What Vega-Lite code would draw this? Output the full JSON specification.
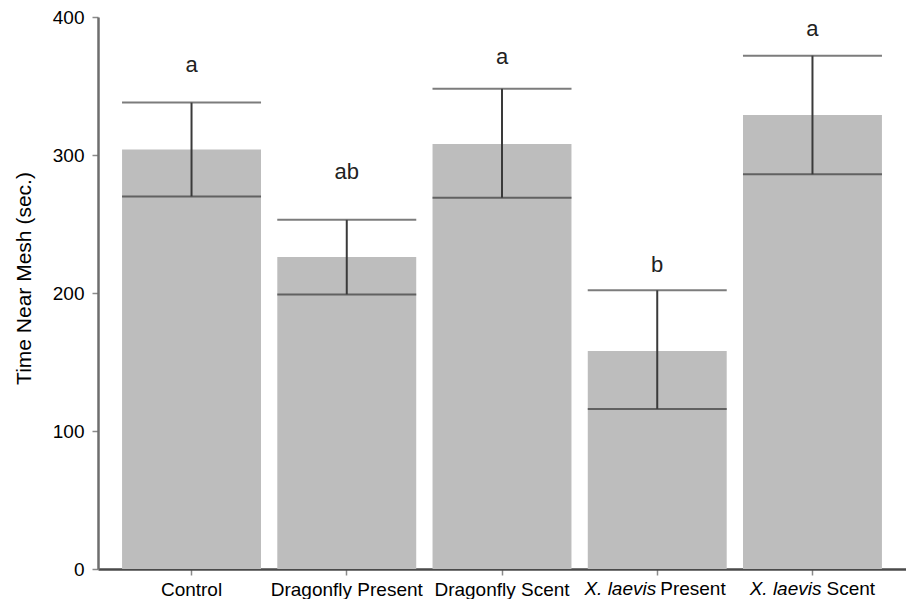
{
  "$schema": "https://vega.github.io/schema/vega-lite/v6.json",
  "width": 808,
  "height": 552,
  "autosize": {"type": "none"},
  "padding": {"left": 98, "top": 17, "right": 0, "bottom": 30},
  "background": "white",
  "config": {
    "view": {"stroke": null},
    "font": "Liberation Sans"
  },
  "data": {
    "values": [
      {"group": "Control", "mean": 304, "lo": 270, "hi": 338, "letter": "a", "letterY": 365, "ital": "", "plain": "Control"},
      {"group": "Dragonfly Present", "mean": 226, "lo": 199, "hi": 253, "letter": "ab", "letterY": 288, "ital": "", "plain": "Dragonfly Present"},
      {"group": "Dragonfly Scent", "mean": 308, "lo": 269, "hi": 348, "letter": "a", "letterY": 371, "ital": "", "plain": "Dragonfly Scent"},
      {"group": "X. laevis Present", "mean": 158, "lo": 116, "hi": 202, "letter": "b", "letterY": 220, "ital": "X. laevis", "plain": "Present"},
      {"group": "X. laevis Scent", "mean": 329, "lo": 286, "hi": 372, "letter": "a", "letterY": 391, "ital": "X. laevis", "plain": "Scent"}
    ]
  },
  "encoding": {
    "x": {
      "field": "group",
      "type": "nominal",
      "sort": null,
      "scale": {"paddingInner": 0.105, "paddingOuter": 0.155},
      "axis": {
        "title": null,
        "labelAngle": 0,
        "labelFontSize": 19,
        "labelColor": "#000000",
        "labelPadding": 5,
        "labelExpr": "indexof(datum.value, 'laevis') >= 0 ? '' : datum.value",
        "tickSize": 6,
        "tickColor": "#8a8a8a",
        "tickWidth": 1.5,
        "domainColor": "#4a4a4a",
        "domainWidth": 2.5,
        "grid": false
      }
    }
  },
  "layer": [
    {
      "mark": {"type": "bar", "color": "#bdbdbd"},
      "encoding": {
        "y": {
          "field": "mean",
          "type": "quantitative",
          "scale": {"domain": [0, 400], "nice": false},
          "axis": {
            "title": "Time Near Mesh (sec.)",
            "titleFontSize": 21,
            "titleFontWeight": "normal",
            "titleColor": "#000000",
            "titleX": -74,
            "titleY": 261,
            "titleAlign": "center",
            "titleBaseline": "middle",
            "titleAngle": -90,
            "values": [0, 100, 200, 300, 400],
            "labelFontSize": 19,
            "labelColor": "#000000",
            "labelPadding": 8,
            "tickSize": 6,
            "tickColor": "#8a8a8a",
            "tickWidth": 1.5,
            "domainColor": "#6e6e6e",
            "domainWidth": 2.5,
            "grid": false
          }
        }
      }
    },
    {
      "mark": {"type": "rule", "color": "#3a3a3a", "strokeWidth": 2},
      "encoding": {
        "y": {"field": "lo", "type": "quantitative"},
        "y2": {"field": "hi"}
      }
    },
    {
      "mark": {"type": "tick", "color": "#444444", "thickness": 2, "size": 139},
      "encoding": {"y": {"field": "hi", "type": "quantitative"}}
    },
    {
      "mark": {"type": "tick", "color": "#3a3a3a", "thickness": 2, "size": 139},
      "encoding": {"y": {"field": "lo", "type": "quantitative"}}
    },
    {
      "mark": {"type": "text", "fontSize": 22, "color": "#222222", "baseline": "middle", "align": "center"},
      "encoding": {
        "y": {"field": "letterY", "type": "quantitative"},
        "text": {"field": "letter"}
      }
    },
    {
      "transform": [{"filter": "datum.group == 'X. laevis Present'"}],
      "mark": {"type": "text", "fontSize": 19, "fontStyle": "italic", "color": "#000000", "align": "right", "baseline": "alphabetic", "dx": -1, "dy": 26},
      "encoding": {"y": {"datum": 0, "type": "quantitative"}, "text": {"field": "ital"}}
    },
    {
      "transform": [{"filter": "datum.group == 'X. laevis Present'"}],
      "mark": {"type": "text", "fontSize": 19, "color": "#000000", "align": "left", "baseline": "alphabetic", "dx": 3, "dy": 26},
      "encoding": {"y": {"datum": 0, "type": "quantitative"}, "text": {"field": "plain"}}
    },
    {
      "transform": [{"filter": "datum.group == 'X. laevis Scent'"}],
      "mark": {"type": "text", "fontSize": 19, "fontStyle": "italic", "color": "#000000", "align": "right", "baseline": "alphabetic", "dx": 9, "dy": 26},
      "encoding": {"y": {"datum": 0, "type": "quantitative"}, "text": {"field": "ital"}}
    },
    {
      "transform": [{"filter": "datum.group == 'X. laevis Scent'"}],
      "mark": {"type": "text", "fontSize": 19, "color": "#000000", "align": "left", "baseline": "alphabetic", "dx": 14, "dy": 26},
      "encoding": {"y": {"datum": 0, "type": "quantitative"}, "text": {"field": "plain"}}
    }
  ]
}
